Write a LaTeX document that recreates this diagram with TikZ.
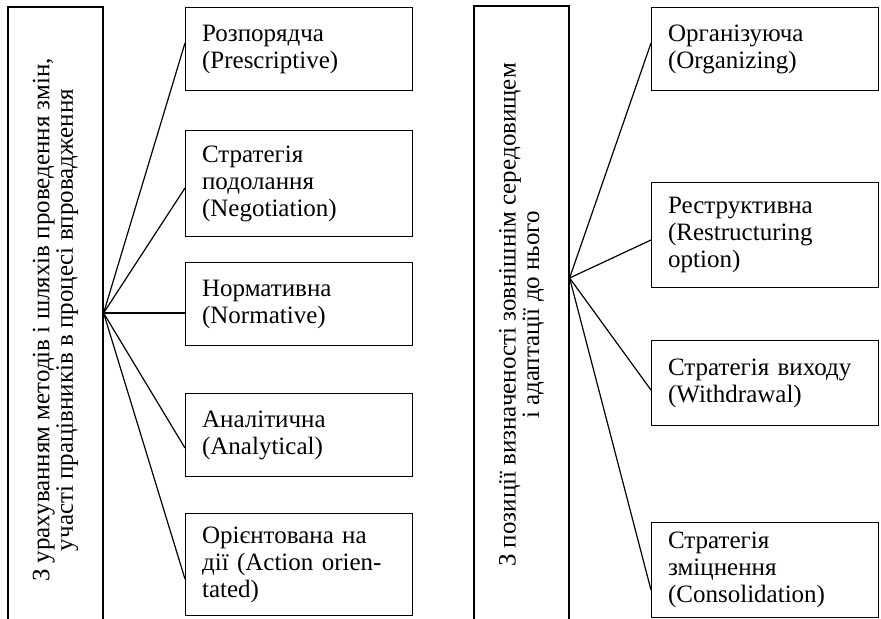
\documentclass[tikz,border=0pt]{standalone}
\usepackage{fontspec}
\setmainfont{Liberation Serif}
\tikzset{
  frame/.style={draw,line width=0.6pt},
  kind/.style={frame,rotate=90,align=center,minimum height=47.5pt,inner sep=0pt,
    font=\fontsize{12.5}{11.75}\selectfont},
  item/.style={frame,anchor=north west,align=left,text width=97pt,minimum width=113.5pt,inner xsep=8.25pt,inner ysep=0pt},
  link/.style={line width=0.6pt}
}
\begin{document}
\begin{tikzpicture}[x=0.5pt,y=-0.5pt,font=\fontsize{12.5}{13.5}\selectfont]
\useasboundingbox (0,0) rectangle (881,618);
\clip (0,0) rectangle (881,618);

\node [kind,minimum width=313pt] (methods) at (55.5,320)
{З урахуванням методів і шляхів проведення змін,\\участі працівників в процесі впровадження};
\node [kind,minimum width=309pt] (environ) at (521.5,315)
{З позиції визначеності зовнішнім середовищем\\і адаптації до нього};

\node [item,minimum height=41.5pt] (pre) at (185,7) {Розпорядча\\(Prescriptive)};
\node [item,minimum height=53pt] (neg) at (185,130) {Стратегія\\подолання\\(Negotiation)};
\node [item,minimum height=41.5pt] (nor) at (185,262) {Нормативна\\(Normative)};
\node [item,minimum height=41.5pt] (ana) at (185,393) {Аналітична\\(Analytical)};
\node [item,minimum height=51pt] (act) at (185,513) {Орієнтована на\\дії (Action orien-\\tated)};

\node [item,minimum height=41.5pt] (org) at (651,7) {Організуюча\\(Organizing)};
\node [item,minimum height=52.5pt] (res) at (651,182) {Реструктивна\\(Restructuring\\option)};
\node [item,minimum height=42.5pt] (wit) at (651,340) {Стратегія виходу\\(Withdrawal)};
\node [item,minimum height=47.5pt] (con) at (651,522) {Стратегія\\зміцнення\\(Consolidation)};

\coordinate (hubL) at (methods.south |- 0,313);
\coordinate (hubR) at (environ.south |- 0,278);

\foreach \n/\y in {pre/43,neg/188,nor/313,ana/448,act/579}
  \draw [link] (hubL) -- (\n.west |- 0,\y);
\foreach \n/\y in {org/43,res/240,wit/390,con/590}
  \draw [link] (hubR) -- (\n.west |- 0,\y);
\end{tikzpicture}
\end{document}
